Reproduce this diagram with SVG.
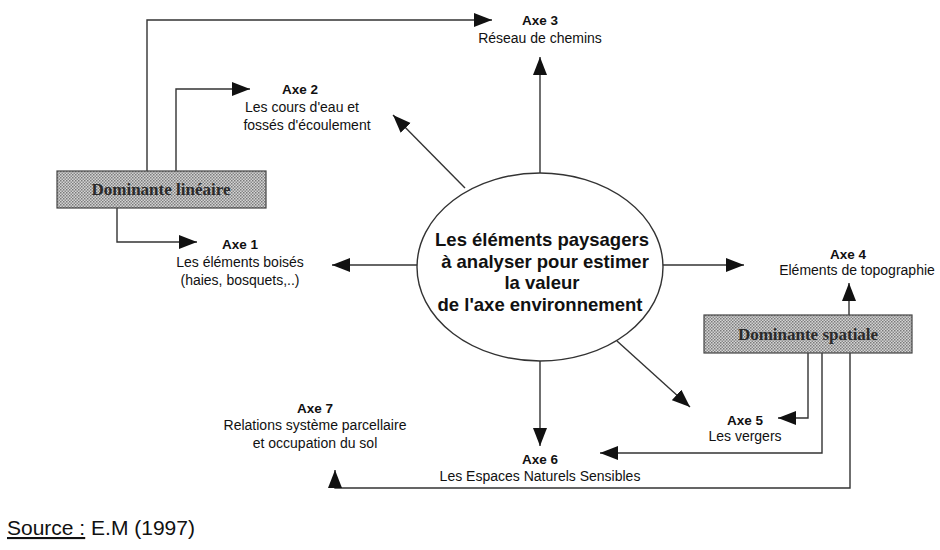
<svg xmlns="http://www.w3.org/2000/svg" width="940" height="550" viewBox="0 0 940 550">
<style>
.bg{fill:#ffffff}
.conn{fill:none;stroke:#333;stroke-width:1.4}
.ax{font-family:"Liberation Sans",Arial,sans-serif;font-size:13.5px;font-weight:bold;fill:#111;text-anchor:middle}
.lb{font-family:"Liberation Sans",Arial,sans-serif;font-size:14px;fill:#111;text-anchor:middle}
.ct{font-family:"Liberation Sans",Arial,sans-serif;font-size:18.5px;font-weight:bold;fill:#111;text-anchor:middle}
.bx{fill:url(#dots);stroke:#444;stroke-width:1.2}
.bt{font-family:"Liberation Serif","Times New Roman",serif;font-size:17px;font-weight:bold;fill:#2a2a2a;text-anchor:middle}
.src{font-family:"Liberation Sans",Arial,sans-serif;font-size:21px;fill:#111}
</style>
<defs>
<pattern id="dots" width="3" height="3" patternUnits="userSpaceOnUse">
<rect width="3" height="3" fill="#d4d4d4"/>
<rect x="0" y="0" width="1.5" height="1.5" fill="#7a7a7a"/>
<rect x="1.5" y="1.5" width="1.5" height="1.5" fill="#8a8a8a"/>
</pattern>
<marker id="ah" markerUnits="userSpaceOnUse" markerWidth="19" markerHeight="15" refX="18" refY="7" orient="auto">
<path d="M0,0 L18,7 L0,14 z" fill="#111"/>
</marker>
</defs>
<rect class="bg" width="940" height="550"/>
<g id="connectors">
<path class="conn" marker-end="url(#ah)" d="M147,171 V20 H492"/>
<path class="conn" marker-end="url(#ah)" d="M176,171 V89 H250"/>
<path class="conn" marker-end="url(#ah)" d="M117,208 V242 H197"/>
<path class="conn" marker-end="url(#ah)" d="M540,173 V57"/>
<path class="conn" marker-end="url(#ah)" d="M465,188 L393,115"/>
<path class="conn" marker-end="url(#ah)" d="M418,265 H332"/>
<path class="conn" marker-end="url(#ah)" d="M662,265 H744"/>
<path class="conn" marker-end="url(#ah)" d="M617,341 L690,407"/>
<path class="conn" marker-end="url(#ah)" d="M540,361 V446"/>
<path class="conn" marker-end="url(#ah)" d="M849,315 V283"/>
<path class="conn" marker-end="url(#ah)" d="M808,353 V418 H778"/>
<path class="conn" marker-end="url(#ah)" d="M822,353 V453 H600"/>
<path class="conn" marker-end="url(#ah)" d="M850,353 V488 H335 V470"/>
</g>
<g id="center">
<ellipse cx="540" cy="267" rx="123" ry="94" fill="#fff" stroke="#333" stroke-width="1.4"/>
<text class="ct" x="542" y="246">Les éléments paysagers</text>
<text class="ct" x="545" y="268">à analyser pour estimer</text>
<text class="ct" x="542" y="289">la valeur</text>
<text class="ct" x="540" y="311">de l'axe environnement</text>
</g>
<g id="dominante-lineaire">
<rect class="bx" x="57" y="171" width="209" height="37"/>
<text class="bt" x="161" y="195">Dominante linéaire</text>
</g>
<g id="dominante-spatiale">
<rect class="bx" x="704" y="315" width="208" height="38"/>
<text class="bt" x="808" y="340">Dominante spatiale</text>
</g>
<g id="axe1">
<text class="ax" x="240" y="249">Axe 1</text>
<text class="lb" x="240" y="267">Les éléments boisés</text>
<text class="lb" x="240" y="285">(haies, bosquets,..)</text>
</g>
<g id="axe2">
<text class="ax" x="300" y="94">Axe 2</text>
<text class="lb" x="302" y="112">Les cours d'eau et</text>
<text class="lb" x="307" y="130">fossés d'écoulement</text>
</g>
<g id="axe3">
<text class="ax" x="540" y="25">Axe 3</text>
<text class="lb" x="540" y="43">Réseau de chemins</text>
</g>
<g id="axe4">
<text class="ax" x="848" y="259">Axe 4</text>
<text class="lb" x="857" y="275">Eléments de topographie</text>
</g>
<g id="axe5">
<text class="ax" x="745" y="425">Axe 5</text>
<text class="lb" x="745" y="441">Les vergers</text>
</g>
<g id="axe6">
<text class="ax" x="540" y="464">Axe 6</text>
<text class="lb" x="540" y="481">Les Espaces Naturels Sensibles</text>
</g>
<g id="axe7">
<text class="ax" x="315" y="413">Axe 7</text>
<text class="lb" x="315" y="430">Relations système parcellaire</text>
<text class="lb" x="315" y="448">et occupation du sol</text>
</g>
<g id="source">
<text class="src" x="7" y="535"><tspan text-decoration="underline">Source :</tspan> E.M (1997)</text>
</g>
</svg>
